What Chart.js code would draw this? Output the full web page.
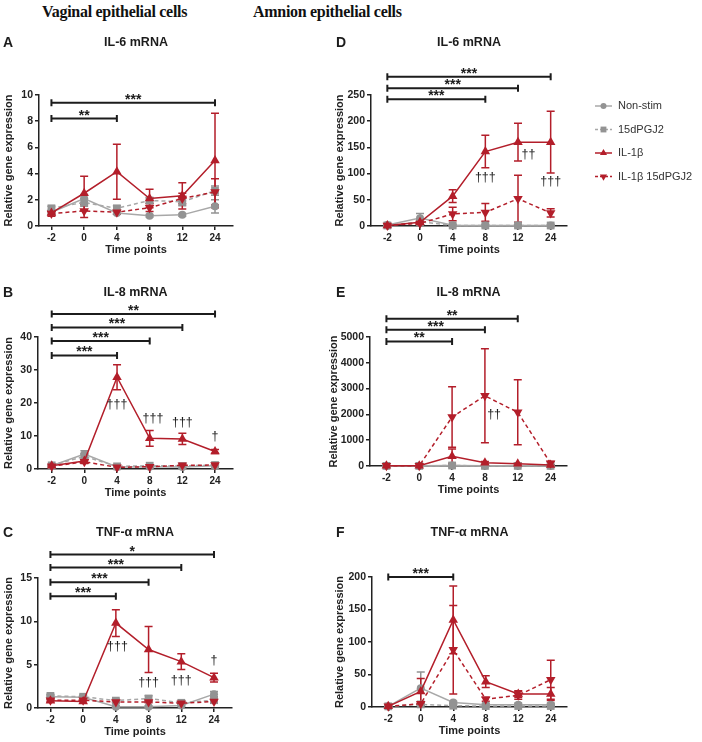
<!DOCTYPE html>
<html>
<head>
<meta charset="utf-8">
<script src="https://cdn.jsdelivr.net/npm/chart.js@4.4.1/dist/chart.umd.min.js"></script>
<style>
  body { margin: 0; background: #fff; width: 702px; height: 742px; position: relative; overflow: hidden; }
  canvas { position: absolute; }
  .head { position: absolute; top: 3px; font: bold 16px "Liberation Serif", "Times New Roman", serif; letter-spacing: -0.3px; color: #111; white-space: nowrap; }
</style>
</head>
<body>
<div class="head" style="left:42px">Vaginal epithelial cells</div>
<div class="head" style="left:253px">Amnion epithelial cells</div>
<script>
// Time points / series
const timeLabels = ['-2', '0', '4', '8', '12', '24'];
const seriesNames = ['Non-stim', '15dPGJ2', 'IL-1β', 'IL-1β 15dPGJ2'];

// A - vaginal IL-6 (rows: Non-stim, 15dPGJ2, IL-1β, IL-1β 15dPGJ2)
const vagIL6Mean = [
  [1.05, 2.1, 1.0, 0.78, 0.85, 1.5],
  [1.35, 1.8, 1.35, 1.95, 1.85, 2.7],
  [1.0, 2.5, 4.15, 2.1, 2.3, 5.0],
  [0.95, 1.15, 1.05, 1.4, 2.1, 2.6]
];
const vagIL6Err = [
  [0.1, 0.3, 0.1, 0.1, 0.1, 0.5],
  [0.15, 0.3, 0.2, 0.2, 0.3, 0.35],
  [0.15, 1.3, 2.1, 0.7, 1.0, 3.6],
  [0.2, 0.5, 0.15, 0.3, 0.4, 1.0]
];
const vagIL6Sig = [['4', 8.2, '**'], ['24', 9.4, '***']];
const vagIL6Dag = [];

// B - vaginal IL-8
const vagIL8Mean = [
  [1.0, 4.5, 0.6, 0.7, 0.6, 1.0],
  [1.1, 3.8, 0.8, 1.0, 0.9, 1.2],
  [1.0, 2.4, 27.8, 9.3, 9.1, 5.3],
  [0.8, 2.2, 0.5, 0.7, 1.1, 1.2]
];
const vagIL8Err = [
  [0.2, 1.0, 0.2, 0.2, 0.2, 0.3],
  [0.2, 0.8, 0.2, 0.2, 0.2, 0.2],
  [0.2, 0.5, 3.8, 2.4, 1.7, 0.6],
  [0.2, 0.5, 0.2, 0.2, 0.3, 0.3]
];
const vagIL8Sig = [['4', 34.4, '***'], ['8', 38.8, '***'], ['12', 42.9, '***'], ['24', 47.0, '**']];
const vagIL8Dag = [['4', 0, 19.4, '†††'], ['8', 0.1, 15.2, '†††'], ['12', 0, 14.2, '†††'], ['24', 0, 9.7, '†']];

// C - vaginal TNF-α
const vagTNFMean = [
  [1.3, 1.25, 0.15, 0.15, 0.3, 1.6],
  [1.4, 1.3, 0.85, 1.1, 0.6, 0.9],
  [0.85, 0.75, 9.8, 6.75, 5.35, 3.5],
  [0.9, 0.9, 0.7, 0.7, 0.55, 0.75]
];
const vagTNFErr = [
  [0.2, 0.2, 0.1, 0.1, 0.1, 0.3],
  [0.2, 0.2, 0.2, 0.3, 0.1, 0.2],
  [0.2, 0.2, 1.55, 2.65, 0.9, 0.5],
  [0.1, 0.1, 0.1, 0.1, 0.1, 0.2]
];
const vagTNFSig = [['4', 12.9, '***'], ['8', 14.5, '***'], ['12', 16.2, '***'], ['24', 17.7, '*']];
const vagTNFDag = [['4', 0.05, 7.05, '†††'], ['8', 0, 2.95, '†††'], ['12', 0, 3.2, '†††'], ['24', 0, 5.45, '†']];

// D - amnion IL-6
const amnIL6Mean = [
  [2, 15, 1.5, 1, 1, 1],
  [1, 8, 1, 1, 1, 1],
  [1, 7, 57, 142, 160, 160],
  [1, 5, 23, 26, 52, 25]
];
const amnIL6Err = [
  [1, 9, 1, 0.5, 0.5, 0.5],
  [0.5, 5, 0.5, 0.5, 0.5, 0.5],
  [0.5, 4, 12, 31, 36, 59],
  [0.5, 3, 13, 17, 45, 8]
];
const amnIL6Sig = [['8', 242, '***'], ['12', 263, '***'], ['24', 285, '***']];
const amnIL6Dag = [['8', 0, 93, '†††'], ['12', 0.32, 136, '††'], ['24', 0, 84, '†††']];

// E - amnion IL-8
const amnIL8Mean = [
  [5, 5, 15, 5, 5, 5],
  [5, 5, 20, 5, 5, 5],
  [10, 10, 380, 130, 90, 40],
  [10, 10, 1900, 2720, 2080, 110]
];
const amnIL8Err = [
  [0, 0, 10, 0, 0, 0],
  [0, 0, 10, 0, 0, 0],
  [0, 0, 280, 40, 30, 10],
  [0, 0, 1170, 1820, 1260, 60]
];
const amnIL8Sig = [['4', 4830, '**'], ['8', 5285, '***'], ['12', 5710, '**']];
const amnIL8Dag = [['8', 0.28, 2010, '††']];

// F - amnion TNF-α
const amnTNFMean = [
  [1, 29, 7, 3.5, 3.5, 3.5],
  [1, 4, 2, 1.5, 1.5, 1.5],
  [1, 24, 134, 39, 20, 20],
  [1, 5, 88, 12, 18, 42]
];
const amnTNFErr = [
  [0.5, 25, 2, 1, 1, 1],
  [0.5, 1, 1, 0.5, 0.5, 0.5],
  [0.5, 20, 52, 9, 5, 10],
  [0.5, 2, 68, 3, 6, 30]
];
const amnTNFSig = [['4', 200, '***']];
const amnTNFDag = [];

const FONT = '"Liberation Sans", Arial, sans-serif';
const RED = '#b31e2a';
const GREY_LINE = '#a8a8a8';
const GREY_MARK = '#939393';
const INK = '#1c1c1c';

Chart.defaults.font.family = FONT;

const seriesStyle = [
  { color: GREY_LINE, mark: GREY_MARK, dash: [], point: 'circle', r: 4, order: 2 },
  { color: GREY_LINE, mark: GREY_MARK, dash: [4, 3], point: 'rect', r: 5.5, order: 3 },
  { color: RED, mark: RED, dash: [], point: 'triangle', r: 5.5, order: 0 },
  { color: RED, mark: RED, dash: [4, 3], point: 'triangle', rot: 180, r: 5.5, order: 1 }
];

function drawMarker(ctx, st, x, y) {
  ctx.fillStyle = st.mark;
  ctx.beginPath();
  if (st.point === 'circle') {
    ctx.arc(x, y, st.r, 0, Math.PI * 2);
  } else if (st.point === 'rect') {
    const h = st.r * Math.SQRT1_2;
    ctx.rect(x - h, y - h, 2 * h, 2 * h);
  } else {
    const d = st.rot ? -1 : 1;
    ctx.moveTo(x, y - d * st.r);
    ctx.lineTo(x - st.r * 0.866, y + d * st.r * 0.5);
    ctx.lineTo(x + st.r * 0.866, y + d * st.r * 0.5);
    ctx.closePath();
  }
  ctx.fill();
}

// error bars, titles, significance bars, daggers, legend
function deco(p) {
  return {
    id: 'deco',
    beforeDatasetsDraw(chart) {
      const ctx = chart.ctx;
      const ys = chart.scales.y;
      ctx.save();
      ctx.lineWidth = 1.5;
      p.err.forEach((errs, s) => {
        const meta = chart.getDatasetMeta(s);
        ctx.strokeStyle = seriesStyle[s].mark;
        errs.forEach((e, i) => {
          if (!e) return;
          const v = p.mean[s][i];
          const x = meta.data[i].x;
          const yt = ys.getPixelForValue(v + e);
          const yb = ys.getPixelForValue(Math.max(v - e, 0));
          ctx.beginPath();
          ctx.moveTo(x, yt); ctx.lineTo(x, yb);
          ctx.moveTo(x - 4, yt); ctx.lineTo(x + 4, yt);
          ctx.moveTo(x - 4, yb); ctx.lineTo(x + 4, yb);
          ctx.stroke();
        });
      });
      ctx.restore();
    },
    afterDraw(chart) {
      const ctx = chart.ctx;
      const xs = chart.scales.x, ys = chart.scales.y;
      const area = chart.chartArea;
      ctx.save();
      ctx.fillStyle = INK;
      ctx.textBaseline = 'middle';
      ctx.font = 'bold 14px ' + FONT;
      ctx.textAlign = 'left';
      ctx.fillText(p.letter, p.letterX, 13);
      ctx.font = 'bold 12.5px ' + FONT;
      ctx.textAlign = 'center';
      ctx.fillText(p.title, (area.left + area.right) / 2, 13);

      // significance brackets
      ctx.strokeStyle = INK;
      ctx.lineWidth = 2;
      p.sig.forEach(([to, val, stars]) => {
        const x1 = xs.getPixelForValue(0);
        const x2 = xs.getPixelForValue(timeLabels.indexOf(to));
        const y = ys.getPixelForValue(val);
        ctx.beginPath();
        ctx.moveTo(x1, y); ctx.lineTo(x2, y);
        ctx.moveTo(x1, y - 3.5); ctx.lineTo(x1, y + 3.5);
        ctx.moveTo(x2, y - 3.5); ctx.lineTo(x2, y + 3.5);
        ctx.stroke();
        ctx.font = 'bold 14px ' + FONT;
        ctx.textBaseline = 'alphabetic';
        ctx.fillText(stars, (x1 + x2) / 2, y + 1);
      });

      // daggers
      ctx.font = '12.5px ' + FONT;
      ctx.textBaseline = 'middle';
      p.dag.forEach(([at, dx, val, txt]) => {
        ctx.fillText(txt, xs.getPixelForValue(timeLabels.indexOf(at) + dx), ys.getPixelForValue(val));
      });

      // legend
      if (p.legend) {
        ctx.textAlign = 'left';
        ctx.font = '11px ' + FONT;
        seriesNames.forEach((name, s) => {
          const st = seriesStyle[s];
          const y = 76 + s * 23.5;
          ctx.strokeStyle = st.color;
          ctx.lineWidth = 1.5;
          ctx.setLineDash(st.dash.length ? [3, 2] : []);
          ctx.beginPath();
          ctx.moveTo(270, y); ctx.lineTo(287, y);
          ctx.stroke();
          ctx.setLineDash([]);
          drawMarker(ctx, Object.assign({}, st, { r: st.r * 0.75 }), 278.5, y);
          ctx.fillStyle = '#333';
          ctx.fillText(name, 293, y);
        });
      }
      ctx.restore();
    }
  };
}

function makePanel(p) {
  const [left, top, w, h] = p.box;
  const cv = document.createElement('canvas');
  cv.width = w; cv.height = h;
  cv.style.left = left + 'px'; cv.style.top = top + 'px';
  document.body.appendChild(cv);

  const datasets = seriesNames.map((name, s) => {
    const st = seriesStyle[s];
    return {
      label: name,
      data: p.mean[s].map((v, i) => ({ x: i, y: v })),
      borderColor: st.color,
      borderWidth: 1.5,
      borderDash: st.dash,
      pointStyle: st.point,
      pointRotation: st.rot || 0,
      pointRadius: st.r,
      pointBackgroundColor: st.mark,
      pointBorderColor: st.mark,
      pointBorderWidth: 0,
      tension: 0,
      fill: false,
      clip: false,
      order: st.order
    };
  });

  const axisTitleFont = { family: FONT, size: 11, weight: 'bold' };
  const tickFont = { family: FONT, size: 10.5, weight: 'bold' };

  new Chart(cv, {
    type: 'line',
    data: { datasets },
    options: {
      responsive: false,
      animation: false,
      events: [],
      layout: { padding: { top: p.padTop, right: p.padRight, bottom: 0, left: 0 } },
      plugins: { legend: { display: false }, tooltip: { enabled: false } },
      scales: {
        x: {
          type: 'linear',
          bounds: 'data',
          min: p.xMin,
          max: p.xMax,
          afterBuildTicks: s => { s.ticks = timeLabels.map((_, i) => ({ value: i })); },
          afterFit: s => { s.height = 31; },
          ticks: {
            callback: v => timeLabels[v],
            autoSkip: false, maxRotation: 0, padding: 2,
            color: '#222', font: { family: FONT, size: 10, weight: 'bold' }
          },
          grid: { drawOnChartArea: false, tickLength: 4, color: '#222', lineWidth: 1.5 },
          border: { display: true, color: '#222', width: 1.5 },
          title: { display: true, text: 'Time points', color: '#222', font: axisTitleFont, padding: 0 }
        },
        y: {
          min: 0,
          max: p.yMax,
          afterFit: s => { s.width = p.yW; },
          ticks: { stepSize: p.yStep, callback: v => String(v), padding: 2, color: '#222', font: tickFont },
          grid: { drawOnChartArea: false, tickLength: 4, color: '#222', lineWidth: 1.5 },
          border: { display: true, color: '#222', width: 1.5 },
          title: { display: true, text: 'Relative gene expression', color: '#222', font: axisTitleFont, padding: { top: p.yTitlePad, bottom: 0 } }
        }
      }
    },
    plugins: [deco(p)]
  });
}

const panels = [
  { letter: 'A', title: 'IL-6 mRNA', mean: vagIL6Mean, err: vagIL6Err, sig: vagIL6Sig, dag: vagIL6Dag,
    yMax: 10, yStep: 2, box: [0, 30, 245, 227], padTop: 65, padRight: 12, yW: 39, yTitlePad: 2,
    xMin: -0.38, xMax: 5.55, letterX: 3 },
  { letter: 'B', title: 'IL-8 mRNA', mean: vagIL8Mean, err: vagIL8Err, sig: vagIL8Sig, dag: vagIL8Dag,
    yMax: 40, yStep: 10, box: [0, 280, 245, 220], padTop: 57, padRight: 12, yW: 38, yTitlePad: 2,
    xMin: -0.42, xMax: 5.55, letterX: 3 },
  { letter: 'C', title: 'TNF-α mRNA', mean: vagTNFMean, err: vagTNFErr, sig: vagTNFSig, dag: vagTNFDag,
    yMax: 15, yStep: 5, box: [0, 520, 245, 219], padTop: 58, padRight: 13, yW: 38, yTitlePad: 2,
    xMin: -0.38, xMax: 5.55, letterX: 3 },
  { letter: 'D', title: 'IL-6 mRNA', mean: amnIL6Mean, err: amnIL6Err, sig: amnIL6Sig, dag: amnIL6Dag,
    yMax: 250, yStep: 50, box: [325, 30, 377, 227], padTop: 65, padRight: 135, yW: 46, yTitlePad: 8.5,
    xMin: -0.5, xMax: 5.5, letterX: 11, legend: true },
  { letter: 'E', title: 'IL-8 mRNA', mean: amnIL8Mean, err: amnIL8Err, sig: amnIL8Sig, dag: amnIL8Dag,
    yMax: 5000, yStep: 1000, box: [325, 280, 250, 217], padTop: 57, padRight: 8, yW: 45, yTitlePad: 2,
    xMin: -0.5, xMax: 5.5, letterX: 11 },
  { letter: 'F', title: 'TNF-α mRNA', mean: amnTNFMean, err: amnTNFErr, sig: amnTNFSig, dag: amnTNFDag,
    yMax: 200, yStep: 50, box: [325, 520, 250, 218], padTop: 57, padRight: 8, yW: 47, yTitlePad: 8.5,
    xMin: -0.5, xMax: 5.5, letterX: 11 }
];

panels.forEach(makePanel);
</script>
</body>
</html>
